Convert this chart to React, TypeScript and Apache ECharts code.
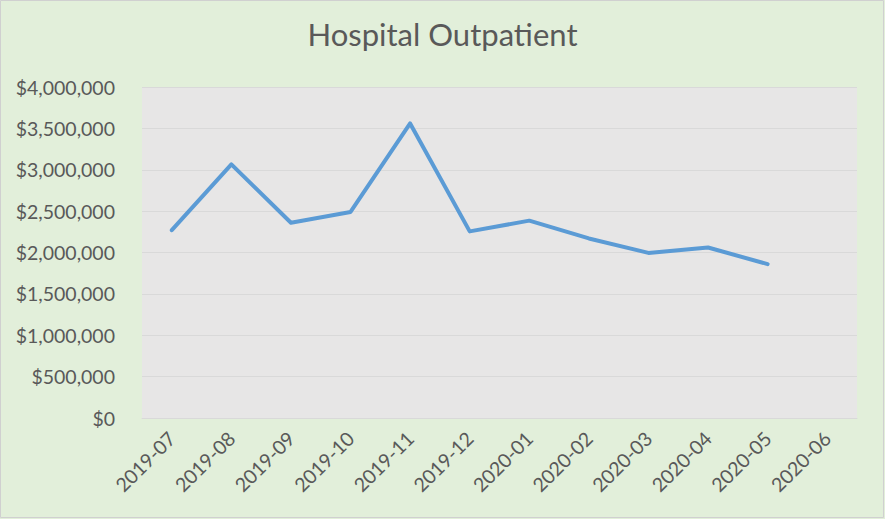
import React, { useEffect, useRef } from "react";
import * as echarts from "echarts";

const categories = [
  "2019-07", "2019-08", "2019-09", "2019-10", "2019-11", "2019-12",
  "2020-01", "2020-02", "2020-03", "2020-04", "2020-05", "2020-06",
];
const outpatient: (number | null)[] = [
  2270000, 3065000, 2360000, 2490000, 3560000, 2255000,
  2385000, 2170000, 1995000, 2060000, 1860000, null,
];
const titleText = "Hospital Outpatient";

const fmt = (v: number) => "$" + v.toLocaleString("en-US");

export default function App() {
  const ref = useRef<HTMLDivElement>(null);
  useEffect(() => {
    document.body.style.margin = "0";
    const chart = echarts.init(ref.current!, undefined, { renderer: "svg" });
    const font = "Lato, 'Open Sans', sans-serif";
    chart.setOption({
      animation: false,
      backgroundColor: "#e2efda",
      title: {
        text: titleText,
        left: "center",
        top: 13,
        textStyle: { fontFamily: font, fontSize: 31, fontWeight: "normal", color: "#595959" },
      },
      grid: { left: 142, right: 28, top: 87, bottom: 101, containLabel: false, show: true, backgroundColor: "#e7e6e6", borderWidth: 0 },
      xAxis: {
        type: "category",
        data: categories,
        boundaryGap: true,
        axisLine: { show: true, lineStyle: { color: "#d9d9d9", width: 1 } },
        axisTick: { show: false },
        axisLabel: { rotate: 45, margin: 17, fontFamily: font, fontSize: 19.5, color: "#595959", interval: 0 },
      },
      yAxis: {
        type: "value",
        min: 0,
        max: 4000000,
        interval: 500000,
        axisLine: { show: false },
        axisTick: { show: false },
        splitLine: { lineStyle: { color: "#d9d9d9", width: 1 } },
        axisLabel: { formatter: fmt, margin: 27, fontFamily: font, fontSize: 19.5, color: "#595959" },
      },
      series: [
        {
          type: "line",
          data: outpatient,
          showSymbol: false,
          symbol: "none",
          lineStyle: { color: "#5b9bd5", width: 4, cap: "round", join: "round" },
          itemStyle: { color: "#5b9bd5" },
        },
      ],
      graphic: [
        {
          type: "rect",
          shape: { x: 0.5, y: 0.5, width: 883, height: 517 },
          style: { fill: "none", stroke: "#d0d0d0", lineWidth: 1 },
          silent: true,
        },
      ],
    });
    return () => chart.dispose();
  }, []);
  return <div ref={ref} style={{ width: 885, height: 519, position: "absolute", left: 0, top: 0 }} />;
}
